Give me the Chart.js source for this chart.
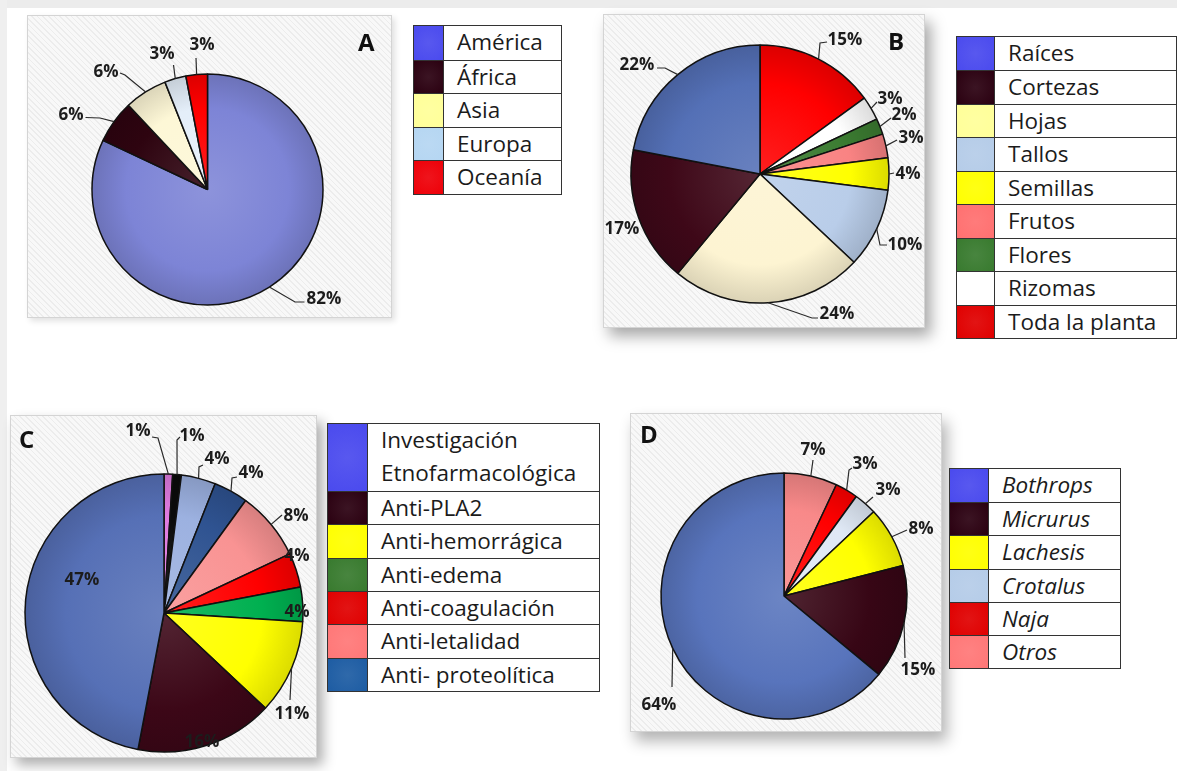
<!DOCTYPE html>
<html lang="es">
<head>
<meta charset="utf-8">
<title>Distribución de plantas medicinales antiofídicas</title>
<script src="https://cdn.jsdelivr.net/npm/chart.js@4.4.1/dist/chart.umd.min.js"></script>
<style>
  html, body { margin: 0; padding: 0; }
  body { width: 1177px; height: 771px; position: relative; overflow: hidden; background: #ffffff; font-family: "Open Sans", sans-serif; }
  .strip-top { position: absolute; left: 0; top: 0; width: 1177px; height: 8px; background: #ececec; }
  .strip-left { position: absolute; left: 0; top: 0; width: 7px; height: 771px; background: #efefef; }
  .panel { position: absolute; outline: 1px solid #d4d4d4; outline-offset: -1px;
           background: repeating-linear-gradient(45deg, #ececec 0px, #ececec 1.2px, #f8f8f8 1.2px, #f8f8f8 4px); }
  .panel canvas { position: absolute; left: 0; top: 0; }
  .tag { position: absolute; font: bold 24px "Open Sans", sans-serif; color: #111; line-height: 1; }
  .key { position: absolute; box-sizing: border-box; border: 1.5px solid #333; background: #fff; color: #1b1b1b; font-size: 22.5px; }
  .key .row { display: flex; box-sizing: border-box; border-top: 1.5px solid #333; }
  .key .row:first-child { border-top: none; }
  .key .sw { flex: none; box-sizing: border-box; border-right: 1.5px solid #333; }
  .key .tx { padding-left: 13px; white-space: nowrap; }
  .key.italic .tx { font-style: italic; }
</style>
</head>
<body>
<div class="strip-top"></div>
<div class="strip-left"></div>

<script>
// ---- Data -------------------------------------------------------------
// A: origin by continent
const regionLabels = ['América', 'África', 'Asia', 'Europa', 'Oceanía'];
const regionValues = [82, 6, 6, 3, 3];

// B: plant part used
const partLabels = ['Raíces', 'Cortezas', 'Hojas', 'Tallos', 'Semillas', 'Frutos', 'Flores', 'Rizomas', 'Toda la planta'];
const partValues = [22, 17, 24, 10, 4, 3, 2, 3, 15];

// C: type of activity studied (the last three slices have no key entry)
const activityLabels = ['Investigación Etnofarmacológica', 'Anti-PLA2', 'Anti-hemorrágica', 'Anti-edema', 'Anti-coagulación', 'Anti-letalidad', 'Anti- proteolítica'];
const activityValues = [47, 16, 11, 4, 4, 8, 4, 4, 1, 1];

// D: snake genus
const genusLabels = ['Bothrops', 'Micrurus', 'Lachesis', 'Crotalus', 'Naja', 'Otros'];
const genusValues = [64, 15, 8, 3, 3, 7];

// ---- Colours ----------------------------------------------------------
const regionSlice = ['#7d84d6', '#2e0410', '#fdf7d6', '#e4eef9', '#ff0000'];
const regionKey   = ['#4a4aee', '#2a0010', '#ffff99', '#b5d6f2', '#ee0008'];
const partSlice = ['#5470b6', '#3e0818', '#fdf4d2', '#b9cde9', '#ffff00', '#f98383', '#3b7b31', '#ffffff', '#ff0000'];
const partKey   = ['#4a4aee', '#2a0010', '#ffff99', '#b5cce8', '#ffff00', '#ff7070', '#387a2e', '#ffffff', '#e00000'];
const activitySlice = ['#5670b6', '#3c0717', '#ffff00', '#00b050', '#ff0000', '#f99393', '#2f5391', '#9cb1e0', '#0b0b0b', '#e07be0'];
const activityKey   = ['#4a4aee', '#2a0010', '#ffff00', '#387a2e', '#e00000', '#ff7777', '#1d5ca3'];
const genusSlice = ['#5874bc', '#370615', '#ffff00', '#dfe8f5', '#ff0000', '#f88989'];
const genusKey   = ['#4a4aee', '#2a0010', '#ffff00', '#b5cce8', '#e00000', '#ff7777'];

// ---- Layout (page pixels) --------------------------------------------
const panels = {
  A: { box: [27, 15, 365, 303], center: [207.5, 189.5], r: 115.5, clockwise: true,  tag: [358, 30] },
  B: { box: [603, 14, 322, 314], center: [760, 174], r: 129, clockwise: false, tag: [888, 29],
       shadow: '6px 8px 14px rgba(0,0,0,0.35)' },
  C: { box: [10, 415, 307, 343], center: [164, 613], r: 139, clockwise: false, tag: [19, 427],
       shadow: '6px 7px 12px rgba(0,0,0,0.32)' },
  D: { box: [630, 413, 312, 319], center: [784, 596], r: 123, clockwise: false, tag: [640, 422],
       shadow: '5px 9px 14px rgba(0,0,0,0.3)' }
};

// Callout placement for each slice (text centre and leader bend points, relative to the pie centre)
const regionCallouts = [
  { at: [116.5, 108.5], path: [[87.5, 112.5], [97, 112.5]] },
  { at: [-136.5, -75.5], path: [[-107.5, -71.5], [-122, -72]] },
  { at: [-101.5, -118.5], path: [[-82.5, -114.5], [-87.5, -116.5]] },
  { at: [-45.5, -136.5], path: [[-34, -124.5]] },
  { at: [-5.5, -145.5], path: [[-11.5, -131.5]] }
];
const partCallouts = [
  { at: [-123, -110], path: [[-95, -106], [-103, -106]] },
  { at: [-138, 54] },
  { at: [77, 139], path: [[52, 144], [58, 144]] },
  { at: [145, 70], path: [[120, 71], [127, 71]] },
  { at: [148, -1], path: [[134, -1]] },
  { at: [151, -37], path: [[137, -34]] },
  { at: [144, -60], path: [[131, -56]] },
  { at: [130, -76], path: [[117, -72]] },
  { at: [85, -135], path: [[60, -131], [67, -132]] }
];
const activityCallouts = [
  { at: [-82, -34] },
  { at: [38, 128] },
  { at: [128, 100], path: [[126, 87]] },
  { at: [133, -2] },
  { at: [133, -58] },
  { at: [132, -98], path: [[118, -98]] },
  { at: [87, -141], path: [[68, -135], [73, -136]] },
  { at: [53, -155], path: [[35, -146], [39, -148]] },
  { at: [28, -178], path: [[13, -173], [16, -176]] },
  { at: [-26, -183], path: [[-6, -175], [-12, -176]] }
];
const genusCallouts = [
  { at: [-125, 108], path: [[-112, 91]] },
  { at: [134, 73], path: [[121, 62]] },
  { at: [137, -68], path: [[123, -66]] },
  { at: [104, -107], path: [[89, -99]] },
  { at: [81, -133], path: [[65, -126], [68, -128]] },
  { at: [29, -147], path: [[29, -136]] }
];

// Legend boxes: [left, top, width, row height, swatch width]
const keys = {
  A: [413, 25, 149, 33.6, 30],
  B: [956, 36, 221, 33.45, 38],
  C: [327, 423, 273, 33.4, 40],
  D: [949, 468, 172, 33.2, 39]
};

// ---- Helpers ----------------------------------------------------------
function mix(hex, target, t) {
  const a = parseInt(hex.slice(1), 16), b = parseInt(target.slice(1), 16);
  const ch = (v, s) => (v >> s) & 255;
  const m = s => Math.round(ch(a, s) + (ch(b, s) - ch(a, s)) * t);
  return 'rgb(' + m(16) + ',' + m(8) + ',' + m(0) + ')';
}

// soft radial shading: a little lighter towards the middle, darker at the rim
function shaded(colors) {
  return (ctx) => {
    const base = colors[ctx.dataIndex];
    const area = ctx.chart.chartArea;
    if (!area) return base;
    const cx = (area.left + area.right) / 2, cy = (area.top + area.bottom) / 2;
    const r = Math.min(area.right - area.left, area.bottom - area.top) / 2;
    const g = ctx.chart.ctx.createRadialGradient(cx, cy, 0, cx, cy, r);
    g.addColorStop(0, mix(base, '#ffffff', 0.12));
    g.addColorStop(0.7, base);
    g.addColorStop(1, mix(base, '#000000', 0.14));
    return g;
  };
}

const calloutPlugin = {
  id: 'callouts',
  afterDatasetsDraw(chart, args, opts) {
    const meta = chart.getDatasetMeta(0);
    const values = chart.data.datasets[0].data;
    const g = chart.ctx;
    g.save();
    g.strokeStyle = '#2a2a2a';
    g.lineWidth = 1.2;
    g.fillStyle = '#1c1c1c';
    g.font = 'bold 17px "Open Sans", sans-serif';
    g.textAlign = 'center';
    g.textBaseline = 'alphabetic';
    meta.data.forEach((arc, i) => {
      const spec = opts.layout[opts.order[i]];
      const cx = arc.x, cy = arc.y, R = arc.outerRadius;
      const mid = (arc.startAngle + arc.endAngle) / 2;
      if (spec.path) {
        g.beginPath();
        g.moveTo(cx + R * Math.cos(mid), cy + R * Math.sin(mid));
        spec.path.forEach(p => g.lineTo(cx + p[0], cy + p[1]));
        g.stroke();
      }
      g.fillText(values[i] + '%', cx + spec.at[0], cy + spec.at[1] + 6);
    });
    g.restore();
  }
};

function drawPanel(name, values, sliceColors, callouts) {
  const p = panels[name];
  const [bx, by, bw, bh] = p.box;
  const box = document.createElement('div');
  box.className = 'panel';
  box.style.left = bx + 'px'; box.style.top = by + 'px';
  box.style.width = bw + 'px'; box.style.height = bh + 'px';
  box.style.boxShadow = p.shadow || '3px 3px 6px rgba(0,0,0,0.12)';
  const cv = document.createElement('canvas');
  cv.width = bw; cv.height = bh;
  box.appendChild(cv);
  document.body.appendChild(box);

  const tag = document.createElement('div');
  tag.className = 'tag';
  tag.textContent = name;
  tag.style.left = p.tag[0] + 'px'; tag.style.top = p.tag[1] + 'px';
  document.body.appendChild(tag);

  const n = values.length;
  const order = values.map((v, i) => p.clockwise ? i : n - 1 - i);
  const data = order.map(k => values[k]);
  const colors = order.map(k => sliceColors[k]);

  const bw2 = 1.5;
  const R = p.r + bw2 / 2;
  const cx = p.center[0] - bx, cy = p.center[1] - by;

  new Chart(cv, {
    type: 'pie',
    data: { labels: data.map((v, i) => String(i)), datasets: [{
      data: data,
      backgroundColor: shaded(colors),
      borderColor: '#111',
      borderWidth: bw2
    }] },
    options: {
      responsive: false,
      animation: false,
      devicePixelRatio: 1,
      events: [],
      layout: { padding: { left: cx - R, top: cy - R, right: bw - cx - R, bottom: bh - cy - R } },
      plugins: {
        legend: { display: false },
        tooltip: { enabled: false },
        callouts: { layout: callouts, order: order }
      }
    },
    plugins: [calloutPlugin]
  });
}

function drawKey(name, labels, colors, italic) {
  const [left, top, width, rowH, swW] = keys[name];
  const key = document.createElement('div');
  key.className = 'key' + (italic ? ' italic' : '');
  key.style.left = left + 'px'; key.style.top = top + 'px'; key.style.width = width + 'px';
  labels.forEach((label, i) => {
    const words = label.split(' ');
    const lines = (label.length > 20 && words.length === 2) ? words : [label];
    const row = document.createElement('div');
    row.className = 'row';
    const sw = document.createElement('div');
    sw.className = 'sw';
    sw.style.width = swW + 'px';
    sw.style.background = 'radial-gradient(circle at 50% 50%, ' + mix(colors[i], '#ffffff', 0.08) + ', ' + colors[i] + ')';
    const tx = document.createElement('div');
    tx.className = 'tx';
    lines.forEach((ln, j) => {
      if (j) tx.appendChild(document.createElement('br'));
      tx.appendChild(document.createTextNode(ln));
    });
    row.style.height = (rowH * lines.length) + 'px';
    tx.style.lineHeight = ((rowH * lines.length - 1.5) / lines.length) + 'px';
    row.appendChild(sw); row.appendChild(tx);
    key.appendChild(row);
  });
  document.body.appendChild(key);
}

drawPanel('A', regionValues, regionSlice, regionCallouts);
drawPanel('B', partValues, partSlice, partCallouts);
drawPanel('C', activityValues, activitySlice, activityCallouts);
drawPanel('D', genusValues, genusSlice, genusCallouts);

drawKey('A', regionLabels, regionKey, false);
drawKey('B', partLabels, partKey, false);
drawKey('C', activityLabels, activityKey, false);
drawKey('D', genusLabels, genusKey, true);
</script>
</body>
</html>
